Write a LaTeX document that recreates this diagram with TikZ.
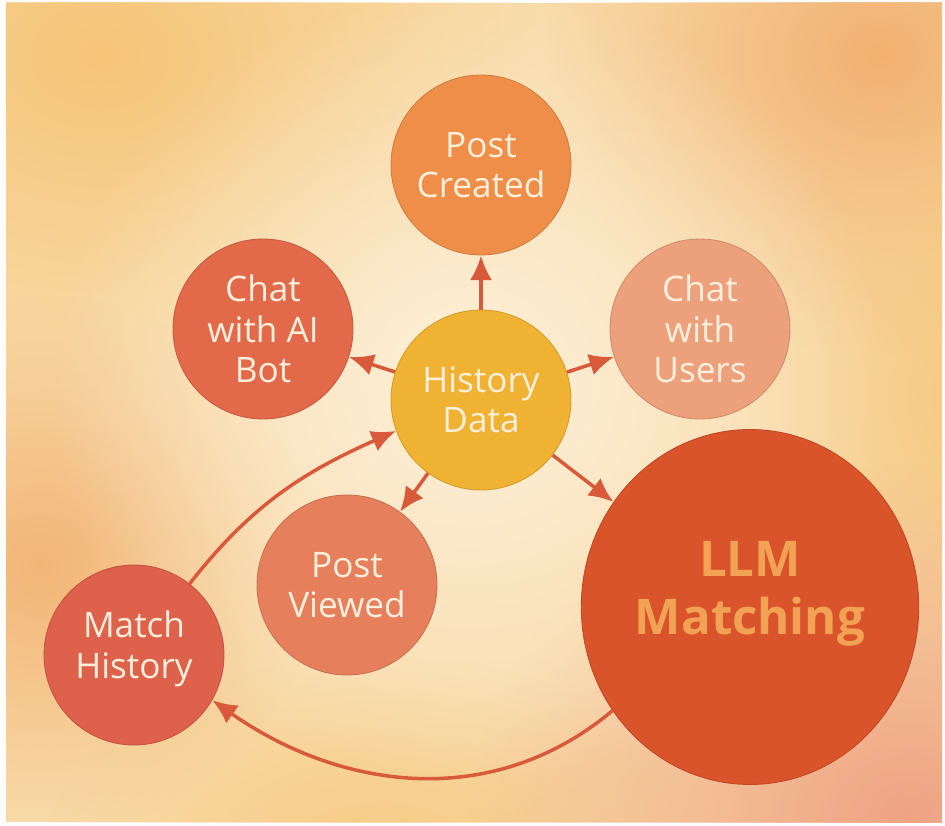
\documentclass[tikz,border=0pt]{standalone}
\usepackage{fontspec}
\setmainfont{Open Sans}
\usepackage{tikz}
\usetikzlibrary{arrows.meta,positioning,calc,fadings,shapes.geometric}
\usepackage{xcolor}

\definecolor{bgbase}{HTML}{F9DCAA}
\definecolor{bgin}{HTML}{FDF0DA}
\definecolor{blobyel}{HTML}{F6C578}
\definecolor{blobor}{HTML}{F2B171}
\definecolor{blobpk}{HTML}{EFA384}
\definecolor{cream}{HTML}{FCEFDC}
\definecolor{arrowred}{HTML}{D95A3A}
\definecolor{histgold}{HTML}{F0B232}
\definecolor{createdor}{HTML}{EF8E48}
\definecolor{aired}{HTML}{E2694A}
\definecolor{userspk}{HTML}{ECA07B}
\definecolor{viewedor}{HTML}{E67F5C}
\definecolor{matchred}{HTML}{DE614B}
\definecolor{llmred}{HTML}{D9532B}
\definecolor{llmtext}{HTML}{F1A254}

\tikzfading[name=softblob, inner color=transparent!0, outer color=transparent!100]

\begin{document}
\begin{tikzpicture}[>={Latex[length=14pt,width=12.5pt]},x=0.02cm,y=0.02cm]
\tikzstyle{bubble}=[circle, minimum size=3.6cm, inner sep=0pt, align=center, text=cream,
  font=\fontsize{20}{23}\selectfont, fill=#1, draw=#1!88!black, line width=0.5pt]
\tikzstyle{link}=[arrowred, line width=2pt]

\useasboundingbox (0,0) rectangle (945,825);
\fill[white] (0,0) rectangle (945,825);
\begin{scope}
\clip (6,3) rectangle (942,822);
\fill[bgbase] (6,3) rectangle (942,822);
\fill[blobyel, path fading=softblob] (100,770) ellipse (440 and 340);
\fill[blobor, path fading=softblob] (880,770) ellipse (340 and 300);
\fill[blobor, opacity=0.9, path fading=softblob] (40,260) ellipse (280 and 270);
\fill[blobyel, opacity=0.8, path fading=softblob] (380,-40) ellipse (340 and 210);
\fill[blobyel, opacity=0.9, path fading=softblob] (990,430) ellipse (260 and 300);
\fill[blobpk, path fading=softblob] (910,10) ellipse (440 and 350);
\fill[bgin, path fading=softblob] (470,440) ellipse (420 and 400);
\end{scope}

\node[bubble=histgold]  (hd) at (481,425)  {History\\Data};
\node[bubble=createdor] (pc) at (481,660)  {Post\\Created};
\node[bubble=aired]     (ai) at (263,496)  {Chat\\with AI\\Bot};
\node[bubble=userspk]   (us) at (700,496)  {Chat\\with\\Users};
\node[bubble=viewedor]  (pv) at (347,240)  {Post\\Viewed};
\node[bubble=matchred]  (mh) at (134,170)  {Match\\History\\[-11pt]};
\node[bubble=llmred, ellipse, minimum width=6.75cm, minimum height=7.1cm, text=llmtext,
      font=\fontsize{28}{33}\selectfont\bfseries] (llm) at (750,218) {LLM\\Matching\\[-11pt]};

\path[->, link]
(hd) edge (pc)
     edge (ai)
     edge (us)
     edge (pv)
     edge (llm)
(mh.52)   edge[out=52, in=204]  (hd.200)
(llm.217) edge[out=220, in=-35] (mh.-30);
\end{tikzpicture}
\end{document}
